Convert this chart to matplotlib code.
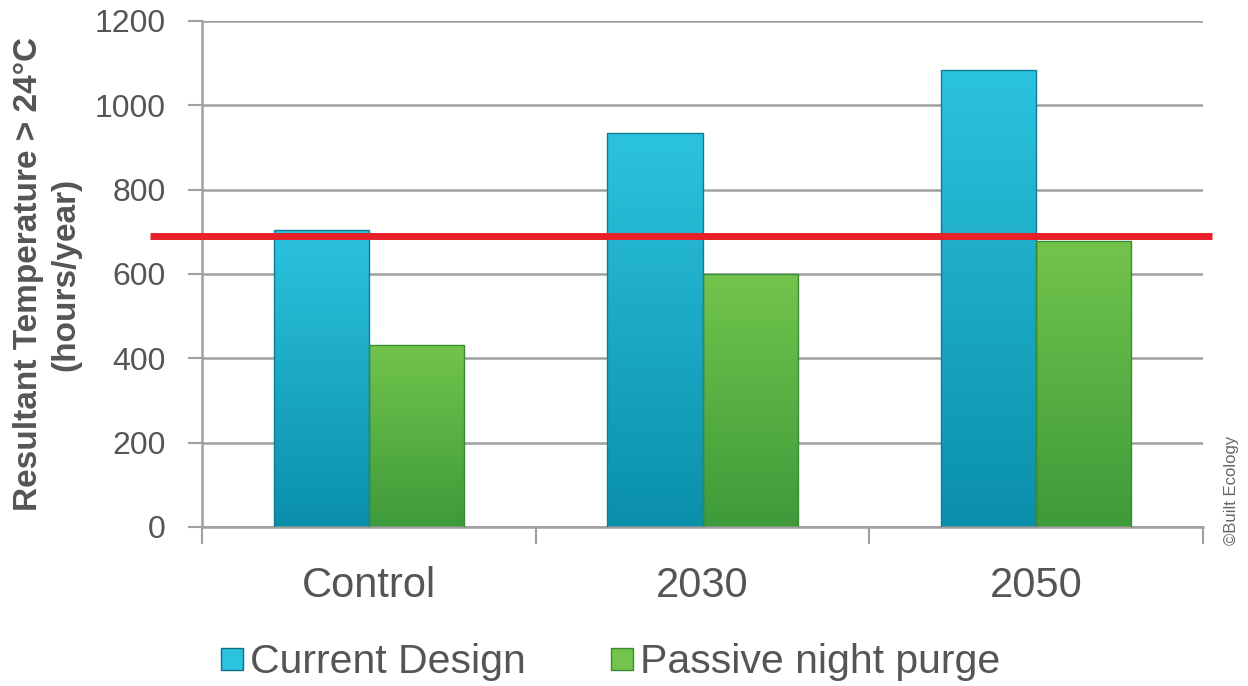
"""Overheating hours per design option, with the comfort threshold."""

import matplotlib.pyplot as plt
import numpy as np
from matplotlib.colors import LinearSegmentedColormap
from matplotlib.lines import Line2D

plt.rcParams["font.family"] = ["Liberation Sans", "DejaVu Sans"]

scenarios = ["Control", "2030", "2050"]
current_design = [704, 934, 1084]
night_purge = [432, 600, 678]
threshold = 690
series_names = ["Current Design", "Passive night purge"]

TEXT = "#555555"
GRID = "#a0a0a0"
BLUE = ("#0a8fab", "#2cc3de")
GREEN = ("#3e9a3a", "#72c44c")


def gradient_bars(ax, bars, colors, edge):
    cmap = LinearSegmentedColormap.from_list("grad", list(colors))
    grad = np.linspace(0, 1, 256).reshape(-1, 1)
    for bar in bars:
        x0, y0 = bar.get_x(), bar.get_y()
        w, h = bar.get_width(), bar.get_height()
        im = ax.imshow(grad, cmap=cmap, origin="lower", aspect="auto",
                       extent=(x0, x0 + w, y0, y0 + h), zorder=2,
                       interpolation="bicubic")
        im.set_clip_path(bar)
        bar.set_facecolor("none")
        bar.set_edgecolor(edge)


fig = plt.figure(figsize=(12.48, 6.86), dpi=100)
ax = fig.add_axes([0.1619, 0.2318, 0.8021, 0.7376])

x = np.arange(len(scenarios))
width = 0.285
b1 = ax.bar(x - width / 2, current_design, width, color=BLUE[1], zorder=3,
            linewidth=1.0)
b2 = ax.bar(x + width / 2, night_purge, width, color=GREEN[1], zorder=3,
            linewidth=1.0)
gradient_bars(ax, b1, BLUE, "#0d7d94")
gradient_bars(ax, b2, GREEN, "#3b8a35")

# comfort threshold runs past both ends of the plot area
ax.plot([-0.052, 1.009], [threshold, threshold], color="#e8202a", lw=5,
        transform=ax.get_yaxis_transform(), clip_on=False, zorder=5,
        solid_capstyle="butt")

ax.set_xlim(-0.5, 2.5)
ax.set_ylim(0, 1200)
ax.set_yticks(np.arange(0, 1201, 200))
ax.yaxis.grid(True, color=GRID, lw=1.8)
ax.set_axisbelow(True)

ax.set_xticks(x)
ax.set_xticklabels(scenarios)
ax.set_xticks([-0.5, 0.5, 1.5, 2.5], minor=True)
ax.tick_params(axis="x", which="major", length=0, pad=28, labelsize=30,
               labelcolor=TEXT)
ax.tick_params(axis="x", which="minor", length=12, width=1.5, color=GRID,
               direction="out")
ax.tick_params(axis="y", length=10, width=1.5, color=GRID, pad=16,
               labelsize=23, labelcolor=TEXT)

for side in ("top", "right"):
    ax.spines[side].set_visible(False)
for side in ("left", "bottom"):
    ax.spines[side].set_color(GRID)
    ax.spines[side].set_linewidth(1.8)

ax.set_ylabel("Resultant Temperature > 24°C\n(hours/year)", fontsize=24,
              fontweight="bold", color=TEXT, labelpad=10, linespacing=1.25)

handles = [
    Line2D([], [], ls="none", marker="s", markersize=16, markerfacecolor=BLUE[1],
           markeredgecolor="#0d6f85"),
    Line2D([], [], ls="none", marker="s", markersize=16, markerfacecolor=GREEN[1],
           markeredgecolor="#3b8a35"),
]
fig.legend(handles, series_names, loc="center", ncol=2, frameon=False,
           bbox_to_anchor=(609 / 1248, 1 - 662 / 686), fontsize=29.5,
           labelcolor=TEXT, handletextpad=0.1, columnspacing=2.0,
           handlelength=0.7)

fig.text(0.987, 0.285, "©Built Ecology", rotation=90, fontsize=12,
         color="#666666", ha="center", va="center")

fig.savefig("out.png", dpi=100)
